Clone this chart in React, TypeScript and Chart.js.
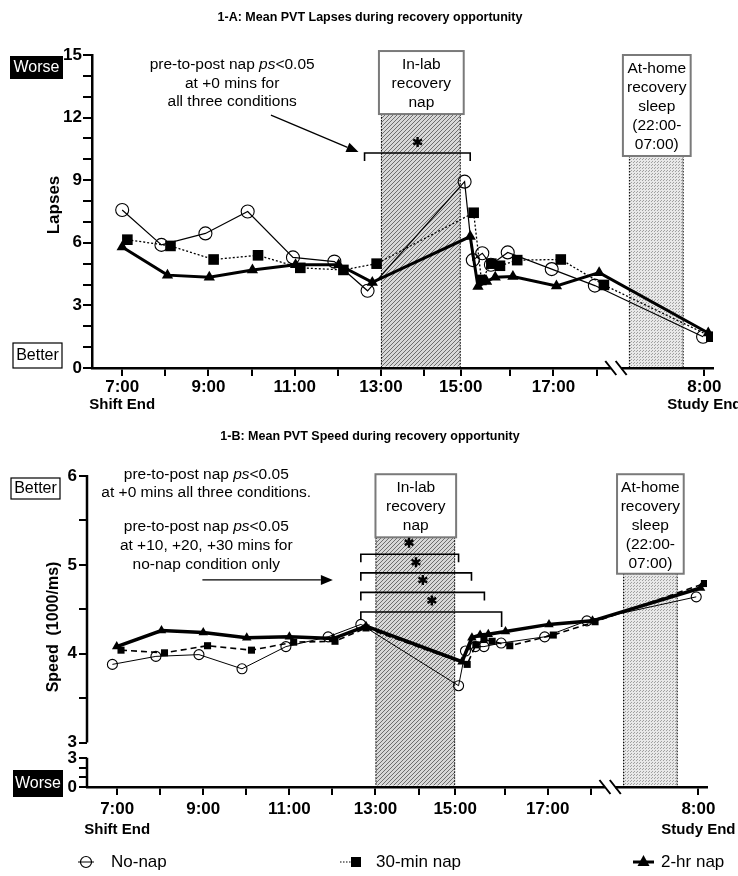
import React, { useEffect, useRef } from 'react';
import { Chart, registerables } from 'chart.js';
Chart.register(...registerables);

const FONT = '"Liberation Sans", Arial, Helvetica, sans-serif';

// ---------- shared x axis (clock hours; after the break 8:00 next day = 20.5) ----------
const xTickHours = [7, 8, 9, 10, 11, 12, 13, 14, 14.85, 16, 17, 18, 20.5];
const xTickLabels = ['7:00', '', '9:00', '', '11:00', '', '13:00', '', '15:00', '', '17:00', '', '8:00'];
const X_MIN = 6.3;
const X_MAX = 20.7;
const napStart = 13;
const napEnd = 14.85;
const sleepStart = 18.75;
const sleepEnd = 20.02;
const breakHours = [18.33, 18.57];

// ---------- Panel A: lapses ----------
const lapseNoNapHours = [7.0, 7.91, 8.93, 9.91, 10.96, 11.92, 12.69, 14.94, 15.13, 15.35, 15.55, 15.94, 16.96, 17.96, 20.47];
const lapseNoNap = [7.57, 5.9, 6.45, 7.5, 5.3, 5.1, 3.7, 8.93, 5.17, 5.5, 4.95, 5.54, 4.74, 3.95, 1.5];
const lapse30Hours = [7.12, 8.12, 9.12, 10.15, 11.13, 12.13, 12.9, 15.15, 15.33, 15.56, 15.76, 16.16, 17.17, 18.17, 20.66];
const lapse30 = [6.15, 5.85, 5.2, 5.4, 4.8, 4.7, 5.0, 7.44, 4.22, 5.0, 4.9, 5.17, 5.2, 3.98, 1.5];
const lapse2hHours = [7.0, 8.05, 9.02, 10.02, 11.02, 12.02, 12.8, 15.07, 15.25, 15.45, 15.65, 16.06, 17.07, 18.06, 20.59];
const lapse2h = [5.8, 4.45, 4.35, 4.7, 4.95, 4.95, 4.1, 6.3, 3.9, 4.15, 4.35, 4.38, 3.93, 4.57, 1.68];

// ---------- Panel B: speed ----------
const speedNoNapHours = [6.89, 7.9, 8.9, 9.9, 10.92, 11.9, 12.66, 14.93, 15.09, 15.32, 15.52, 15.92, 16.93, 17.91, 20.45];
const speedNoNap = [3.88, 3.97, 3.99, 3.83, 4.08, 4.19, 4.33, 3.64, 4.03, 4.08, 4.08, 4.12, 4.19, 4.37, 4.64];
const speed30Hours = [7.09, 8.1, 9.1, 10.12, 11.1, 12.06, 12.78, 15.13, 15.33, 15.52, 15.71, 16.12, 17.13, 18.1, 20.64];
const speed30 = [4.04, 4.01, 4.09, 4.04, 4.13, 4.14, 4.29, 3.88, 4.1, 4.16, 4.14, 4.09, 4.21, 4.36, 4.79];
const speed2hHours = [6.99, 8.03, 9.0, 10.01, 11.0, 12.02, 12.78, 15.01, 15.24, 15.43, 15.62, 16.02, 17.03, 18.04, 20.55];
const speed2h = [4.08, 4.26, 4.24, 4.18, 4.19, 4.17, 4.31, 3.91, 4.18, 4.21, 4.22, 4.25, 4.33, 4.37, 4.74];

// broken speed axis: upper segment 3..6, lower segment 0..3 squeezed below
const SPEED_AXIS_MIN = 2.5;
const SPEED_LOWER_TOP = 2.828;
const speedUpperTicks = [3, 3.5, 4, 4.5, 5, 5.5, 6];
const speedLowerTicks = [0, 1, 2, 3];
const lowerVal = (v: number) => SPEED_AXIS_MIN + (v / 3) * (SPEED_LOWER_TOP - SPEED_AXIS_MIN);

// ---------- annotation text ----------
type Seg = [string, boolean];
const PS_LINE: Seg[] = [['pre-to-post nap ', false], ['ps', true], ['<0.05', false]];
const annotA: Seg[][] = [PS_LINE, [['at +0 mins for', false]], [['all three conditions', false]]];
const annotB1: Seg[][] = [PS_LINE, [['at +0 mins all three conditions.', false]]];
const annotB2: Seg[][] = [PS_LINE, [['at +10, +20, +30 mins for', false]], [['no-nap condition only', false]]];
const napBoxLines = ['In-lab', 'recovery', 'nap'];
const sleepBoxLines = ['At-home', 'recovery', 'sleep', '(22:00-', '07:00)'];

// bracket specs (hours / values)
const bracketBRights = [14.93, 15.23, 15.53, 15.93];
const bracketBValues = [5.12, 4.91, 4.69, 4.47];
const starBHours = [13.78, 13.94, 14.1, 14.31];
const starBValues = [5.25, 5.03, 4.83, 4.6];

const toPts = (xs: number[], ys: number[]) => xs.map((x, i) => ({ x, y: ys[i] }));

function makeHatch(ctx: CanvasRenderingContext2D) {
  const c = document.createElement('canvas');
  c.width = 4; c.height = 4;
  const g = c.getContext('2d')!;
  g.fillStyle = '#d8d8d8';
  g.fillRect(0, 0, 4, 4);
  g.strokeStyle = '#6e6e6e';
  g.lineWidth = 1;
  g.beginPath();
  g.moveTo(0, 4); g.lineTo(4, 0);
  g.moveTo(-1, 1); g.lineTo(1, -1);
  g.moveTo(3, 5); g.lineTo(5, 3);
  g.stroke();
  return ctx.createPattern(c, 'repeat')!;
}
function makeStipple(ctx: CanvasRenderingContext2D) {
  const c = document.createElement('canvas');
  c.width = 3; c.height = 3;
  const g = c.getContext('2d')!;
  g.fillStyle = '#e8e8e8';
  g.fillRect(0, 0, 3, 3);
  g.fillStyle = '#a0a0a0';
  g.fillRect(0, 0, 1, 1);
  g.fillRect(1, 2, 1, 1);
  return ctx.createPattern(c, 'repeat')!;
}

function drawRich(ctx: CanvasRenderingContext2D, segs: Seg[], cx: number, cy: number, size: number) {
  const fonts = segs.map(([, it]) => `${it ? 'italic ' : ''}${size}px ${FONT}`);
  let total = 0;
  segs.forEach(([t], i) => { ctx.font = fonts[i]; total += ctx.measureText(t).width; });
  let x = cx - total / 2;
  ctx.textAlign = 'left';
  ctx.textBaseline = 'middle';
  ctx.fillStyle = '#000';
  segs.forEach(([t], i) => { ctx.font = fonts[i]; ctx.fillText(t, x, cy); x += ctx.measureText(t).width; });
}

function drawStar(ctx: CanvasRenderingContext2D, x: number, y: number, r: number) {
  ctx.save();
  ctx.strokeStyle = '#000';
  ctx.lineWidth = 2.4;
  ctx.setLineDash([]);
  ctx.beginPath();
  for (let k = 0; k < 3; k++) {
    const a = Math.PI / 2 + (k * Math.PI) / 3;
    ctx.moveTo(x + Math.cos(a) * r, y + Math.sin(a) * r);
    ctx.lineTo(x - Math.cos(a) * r, y - Math.sin(a) * r);
  }
  ctx.stroke();
  ctx.restore();
}

function drawArrow(ctx: CanvasRenderingContext2D, x1: number, y1: number, x2: number, y2: number) {
  const ang = Math.atan2(y2 - y1, x2 - x1);
  const len = 12, hw = 5;
  const bx = x2 - Math.cos(ang) * len, by = y2 - Math.sin(ang) * len;
  ctx.save();
  ctx.strokeStyle = '#000';
  ctx.fillStyle = '#000';
  ctx.lineWidth = 1.3;
  ctx.setLineDash([]);
  ctx.beginPath();
  ctx.moveTo(x1, y1);
  ctx.lineTo(bx, by);
  ctx.stroke();
  ctx.beginPath();
  ctx.moveTo(x2, y2);
  ctx.lineTo(bx + Math.sin(ang) * hw, by - Math.cos(ang) * hw);
  ctx.lineTo(bx - Math.sin(ang) * hw, by + Math.cos(ang) * hw);
  ctx.closePath();
  ctx.fill();
  ctx.restore();
}

function drawBracket(ctx: CanvasRenderingContext2D, x1: number, x2: number, y: number, lt: number, rt: number) {
  ctx.save();
  ctx.strokeStyle = '#000';
  ctx.lineWidth = 1.6;
  ctx.setLineDash([]);
  ctx.beginPath();
  ctx.moveTo(x1, y + lt);
  ctx.lineTo(x1, y);
  ctx.lineTo(x2, y);
  ctx.lineTo(x2, y + rt);
  ctx.stroke();
  ctx.restore();
}

function drawLabelBox(ctx: CanvasRenderingContext2D, x1: number, x2: number, y1: number, y2: number, lines: string[]) {
  ctx.save();
  ctx.setLineDash([]);
  ctx.fillStyle = '#fff';
  ctx.fillRect(x1, y1, x2 - x1, y2 - y1);
  ctx.strokeStyle = '#7a7a7a';
  ctx.lineWidth = 2;
  ctx.strokeRect(x1, y1, x2 - x1, y2 - y1);
  ctx.fillStyle = '#000';
  ctx.font = `15.5px ${FONT}`;
  ctx.textAlign = 'center';
  ctx.textBaseline = 'middle';
  lines.forEach((t, i) => ctx.fillText(t, (x1 + x2) / 2, y1 + 13.5 + i * 19));
  ctx.restore();
}

function drawShades(chart: any, napTopVal: number, sleepTopVal: number) {
  const { ctx, chartArea: ca, scales: { x, y } } = chart;
  ctx.save();
  const regions: [number, number, number, any][] = [
    [napStart, napEnd, napTopVal, makeHatch(ctx)],
    [sleepStart, sleepEnd, sleepTopVal, makeStipple(ctx)],
  ];
  regions.forEach(([h1, h2, topVal, pat]) => {
    const x1 = x.getPixelForValue(h1), x2 = x.getPixelForValue(h2);
    const t = y.getPixelForValue(topVal);
    ctx.fillStyle = pat;
    ctx.fillRect(x1, t, x2 - x1, ca.bottom - t - 1.5);
    ctx.strokeStyle = '#000';
    ctx.lineWidth = 1;
    ctx.setLineDash([1.5, 1.5]);
    ctx.beginPath();
    ctx.moveTo(x1 + 0.5, t); ctx.lineTo(x1 + 0.5, ca.bottom);
    ctx.moveTo(x2 - 0.5, t); ctx.lineTo(x2 - 0.5, ca.bottom);
    ctx.stroke();
  });
  ctx.restore();
}

function drawAxisBreak(chart: any) {
  const { ctx, chartArea: ca, scales: { x } } = chart;
  const b1 = x.getPixelForValue(breakHours[0]);
  const b2 = x.getPixelForValue(breakHours[1]);
  const yb = ca.bottom;
  ctx.save();
  ctx.fillStyle = '#fff';
  ctx.fillRect(b1, yb - 3, b2 - b1, 6);
  ctx.strokeStyle = '#000';
  ctx.lineWidth = 2;
  ctx.setLineDash([]);
  ctx.beginPath();
  [b1, b2].forEach((bx) => {
    ctx.moveTo(bx - 5.5, yb - 7);
    ctx.lineTo(bx + 5.5, yb + 7);
  });
  ctx.stroke();
  ctx.restore();
}

function drawCornerBox(ctx: CanvasRenderingContext2D, x: number, y: number, w: number, h: number, text: string, dark: boolean) {
  ctx.save();
  ctx.setLineDash([]);
  if (dark) {
    ctx.fillStyle = '#000';
    ctx.fillRect(x, y, w, h);
    ctx.fillStyle = '#fff';
  } else {
    ctx.fillStyle = '#fff';
    ctx.fillRect(x, y, w, h);
    ctx.strokeStyle = '#000';
    ctx.lineWidth = 1.2;
    ctx.strokeRect(x, y, w, h);
    ctx.fillStyle = '#000';
  }
  ctx.font = `16px ${FONT}`;
  ctx.textAlign = 'center';
  ctx.textBaseline = 'middle';
  ctx.fillText(text, x + w / 2, y + h / 2 + 0.5);
  ctx.restore();
}

function drawCenteredText(ctx: CanvasRenderingContext2D, text: string, x: number, y: number, font: string, rot = 0) {
  ctx.save();
  ctx.translate(x, y);
  ctx.rotate(rot);
  ctx.font = font;
  ctx.fillStyle = '#000';
  ctx.textAlign = 'center';
  ctx.textBaseline = 'middle';
  ctx.fillText(text, 0, 0);
  ctx.restore();
}

const panelAPlugin = {
  id: 'panelA',
  beforeDatasetsDraw(chart: any) {
    drawShades(chart, 12.17, 10.16);
  },
  afterDraw(chart: any) {
    const { ctx, scales: { x, y } } = chart;
    drawLabelBox(ctx, x.getPixelForValue(napStart) - 2, x.getPixelForValue(napEnd) + 3, y.getPixelForValue(15.19), y.getPixelForValue(12.17), napBoxLines);
    drawLabelBox(ctx, x.getPixelForValue(sleepStart) - 6, x.getPixelForValue(sleepEnd) + 7, y.getPixelForValue(15.0), y.getPixelForValue(10.16), sleepBoxLines);
    annotA.forEach((segs, i) => drawRich(ctx, segs, x.getPixelForValue(9.55), y.getPixelForValue(14.52) + i * 18.5, 15.5));
    drawArrow(ctx, x.getPixelForValue(10.45), y.getPixelForValue(12.12), x.getPixelForValue(12.48), y.getPixelForValue(10.35));
    drawBracket(ctx, x.getPixelForValue(12.62), x.getPixelForValue(15.07), y.getPixelForValue(10.3), 8, 8);
    drawStar(ctx, x.getPixelForValue(13.85), y.getPixelForValue(10.83), 5);
    drawAxisBreak(chart);
    drawCenteredText(ctx, '1-A: Mean PVT Lapses during recovery opportunity', 370, 18, `bold 12.5px ${FONT}`);
    drawCenteredText(ctx, 'Lapses', 54, 205, `bold 17px ${FONT}`, -Math.PI / 2);
    drawCornerBox(ctx, 10, 56, 53, 23, 'Worse', true);
    drawCornerBox(ctx, 13, 343, 49, 25, 'Better', false);
    drawCenteredText(ctx, 'Shift End', x.getPixelForValue(7), 405, `bold 15px ${FONT}`);
    drawCenteredText(ctx, 'Study End', x.getPixelForValue(20.5), 405, `bold 15px ${FONT}`);
  },
};

const panelBPlugin = {
  id: 'panelB',
  beforeDatasetsDraw(chart: any) {
    drawShades(chart, 5.31, 4.9);
  },
  afterDraw(chart: any) {
    const { ctx, chartArea: ca, scales: { x, y } } = chart;
    ctx.save();
    ctx.strokeStyle = '#000';
    ctx.lineWidth = 2.5;
    ctx.setLineDash([]);
    ctx.beginPath();
    ctx.moveTo(ca.left, y.getPixelForValue(6) - 1);
    ctx.lineTo(ca.left, y.getPixelForValue(3));
    ctx.moveTo(ca.left, y.getPixelForValue(SPEED_LOWER_TOP));
    ctx.lineTo(ca.left, y.getPixelForValue(SPEED_AXIS_MIN));
    ctx.stroke();
    ctx.restore();

    drawLabelBox(ctx, x.getPixelForValue(napStart), x.getPixelForValue(napEnd) + 1, y.getPixelForValue(6.02), y.getPixelForValue(5.31), napBoxLines);
    drawLabelBox(ctx, x.getPixelForValue(sleepStart) - 6, x.getPixelForValue(sleepEnd) + 6, y.getPixelForValue(6.02), y.getPixelForValue(4.9), sleepBoxLines);

    annotB1.forEach((segs, i) => drawRich(ctx, segs, x.getPixelForValue(9.07), y.getPixelForValue(6.01) + i * 17.5, 15.5));
    annotB2.forEach((segs, i) => drawRich(ctx, segs, x.getPixelForValue(9.07), y.getPixelForValue(5.43) + i * 19, 15.5));
    drawArrow(ctx, x.getPixelForValue(8.98), y.getPixelForValue(4.83), x.getPixelForValue(12.01), y.getPixelForValue(4.83));

    bracketBRights.forEach((r, i) => {
      drawBracket(ctx, x.getPixelForValue(12.66), x.getPixelForValue(r), y.getPixelForValue(bracketBValues[i]), 8, i === 3 ? 15 : 8);
      drawStar(ctx, x.getPixelForValue(starBHours[i]), y.getPixelForValue(starBValues[i]), 5);
    });
    drawAxisBreak(chart);

    drawCenteredText(ctx, '1-B: Mean PVT Speed during recovery opportunity', 370, 22, `bold 12.5px ${FONT}`);
    drawCenteredText(ctx, 'Speed  (1000/ms)', 54, 212, `bold 16px ${FONT}`, -Math.PI / 2);
    drawCornerBox(ctx, 11, 63, 49, 21, 'Better', false);
    drawCornerBox(ctx, 13, 355, 50, 27, 'Worse', true);
    drawCenteredText(ctx, 'Shift End', x.getPixelForValue(7), 415, `bold 15px ${FONT}`);
    drawCenteredText(ctx, 'Study End', x.getPixelForValue(20.5), 415, `bold 15px ${FONT}`);

    // legend
    const ly = 447;
    ctx.save();
    ctx.strokeStyle = '#000';
    ctx.fillStyle = '#000';
    ctx.setLineDash([]);
    ctx.lineWidth = 1;
    ctx.beginPath(); ctx.moveTo(78, ly); ctx.lineTo(94, ly); ctx.stroke();
    ctx.lineWidth = 1.2;
    ctx.beginPath(); ctx.arc(86, ly, 5.5, 0, Math.PI * 2); ctx.stroke();
    ctx.lineWidth = 1.2;
    ctx.setLineDash([1.5, 1.5]);
    ctx.beginPath(); ctx.moveTo(340, ly); ctx.lineTo(352, ly); ctx.stroke();
    ctx.setLineDash([]);
    ctx.fillRect(351, ly - 5, 10, 10);
    ctx.lineWidth = 3;
    ctx.beginPath(); ctx.moveTo(633, ly); ctx.lineTo(654, ly); ctx.stroke();
    ctx.beginPath();
    ctx.moveTo(643.5, ly - 7); ctx.lineTo(649.5, ly + 4); ctx.lineTo(637.5, ly + 4); ctx.closePath(); ctx.fill();
    ctx.font = `17px ${FONT}`;
    ctx.textAlign = 'left';
    ctx.textBaseline = 'middle';
    ctx.fillText('No-nap', 111, ly);
    ctx.fillText('30-min nap', 376, ly);
    ctx.fillText('2-hr nap', 661, ly);
    ctx.restore();
  },
};

function xScale(height: number, tickPad: number) {
  return {
    type: 'linear' as const,
    min: X_MIN,
    max: X_MAX,
    afterBuildTicks: (s: any) => { s.ticks = xTickHours.map((v) => ({ value: v })); },
    afterFit: (s: any) => { s.height = height; s.paddingLeft = 0; s.paddingRight = 0; },
    ticks: {
      autoSkip: false,
      maxRotation: 0,
      padding: tickPad,
      color: '#000',
      font: { family: FONT, size: 17, weight: 'bold' as const },
      callback: (v: any) => {
        const i = xTickHours.findIndex((h) => Math.abs(h - Number(v)) < 1e-6);
        return i >= 0 ? xTickLabels[i] : '';
      },
    },
    grid: { drawOnChartArea: false, drawTicks: true, tickLength: 8, color: '#000', lineWidth: 2 },
    border: { display: true, color: '#000', width: 2.5 },
  };
}

function lineDatasets(noX: number[], noY: number[], x30: number[], y30: number[], x2: number[], y2: number[], big: boolean) {
  return [
    {
      label: 'No-nap', data: toPts(noX, noY), order: 2,
      borderColor: '#000', borderWidth: big ? 1.2 : 1, pointStyle: 'circle', pointRadius: big ? 6.5 : 5,
      pointBorderWidth: 1.1, pointBorderColor: '#000', pointBackgroundColor: 'rgba(0,0,0,0)', tension: 0, fill: false,
    },
    {
      label: '30-min nap', data: toPts(x30, y30), order: 1,
      borderColor: '#000', borderWidth: big ? 1.3 : 1.6, borderDash: big ? [2, 2] : [6, 4], pointStyle: 'rect',
      pointRadius: big ? 7.5 : 5, pointBorderWidth: 0, pointBackgroundColor: '#000', tension: 0, fill: false,
    },
    {
      label: '2-hr nap', data: toPts(x2, y2), order: 0,
      borderColor: '#000', borderWidth: big ? 3 : 3.5, pointStyle: 'triangle', pointRadius: big ? 6.5 : 5.5,
      pointBorderWidth: 0, pointBackgroundColor: '#000', tension: 0, fill: false,
    },
  ];
}

export default function App() {
  const refA = useRef<HTMLCanvasElement>(null);
  const refB = useRef<HTMLCanvasElement>(null);

  useEffect(() => {
    const chartA = new Chart(refA.current!, {
      type: 'line',
      data: { datasets: lineDatasets(lapseNoNapHours, lapseNoNap, lapse30Hours, lapse30, lapse2hHours, lapse2h, true) as any },
      options: {
        responsive: false,
        animation: false,
        layout: { padding: { left: 0, right: 25, top: 55, bottom: 0 } },
        plugins: { legend: { display: false }, tooltip: { enabled: false }, title: { display: false } },
        scales: {
          x: xScale(47, 1) as any,
          y: {
            type: 'linear',
            min: 0,
            max: 15,
            afterFit: (s: any) => { s.width = 92; s.paddingTop = 0; s.paddingBottom = 0; },
            ticks: {
              stepSize: 1,
              autoSkip: false,
              padding: 1,
              color: '#000',
              font: { family: FONT, size: 17, weight: 'bold' },
              callback: (v: any) => (Number(v) % 3 === 0 ? String(v) : ''),
            },
            grid: { drawOnChartArea: false, drawTicks: true, tickLength: 9, color: '#000', lineWidth: 2 },
            border: { display: true, color: '#000', width: 2.5 },
          },
        },
      },
      plugins: [panelAPlugin],
    });

    const chartB = new Chart(refB.current!, {
      type: 'line',
      data: { datasets: lineDatasets(speedNoNapHours, speedNoNap, speed30Hours, speed30, speed2hHours, speed2h, false) as any },
      options: {
        responsive: false,
        animation: false,
        layout: { padding: { left: 0, right: 31, top: 61, bottom: 0 } },
        plugins: { legend: { display: false }, tooltip: { enabled: false }, title: { display: false } },
        scales: {
          x: xScale(89, 4) as any,
          y: {
            type: 'linear',
            min: SPEED_AXIS_MIN,
            max: 6,
            afterBuildTicks: (s: any) => {
              s.ticks = [...speedLowerTicks.map((v) => ({ value: lowerVal(v) })), ...speedUpperTicks.map((v) => ({ value: v }))];
            },
            afterFit: (s: any) => { s.width = 87; s.paddingTop = 0; s.paddingBottom = 0; },
            ticks: {
              autoSkip: false,
              padding: 2,
              color: '#000',
              font: { family: FONT, size: 17, weight: 'bold' },
              callback: (v: any) => {
                const val = Number(v);
                if (val < 2.95) {
                  const k = Math.round(((val - SPEED_AXIS_MIN) / (SPEED_LOWER_TOP - SPEED_AXIS_MIN)) * 3);
                  return k === 0 || k === 3 ? String(speedLowerTicks[k]) : '';
                }
                return Math.abs(val - Math.round(val)) < 1e-6 ? String(Math.round(val)) : '';
              },
            },
            grid: { drawOnChartArea: false, drawTicks: true, tickLength: 8, color: '#000', lineWidth: 2 },
            border: { display: false },
          },
        },
      },
      plugins: [panelBPlugin],
    });

    return () => {
      chartA.destroy();
      chartB.destroy();
    };
  }, []);

  return (
    <div style={{ position: 'absolute', left: 0, top: 0, width: 738, height: 876, background: '#fff', overflow: 'hidden' }}>
      <canvas ref={refA} width={738} height={415} style={{ position: 'absolute', left: 0, top: 0, width: 738, height: 415 }} />
      <canvas ref={refB} width={738} height={461} style={{ position: 'absolute', left: 0, top: 415, width: 738, height: 461 }} />
    </div>
  );
}
